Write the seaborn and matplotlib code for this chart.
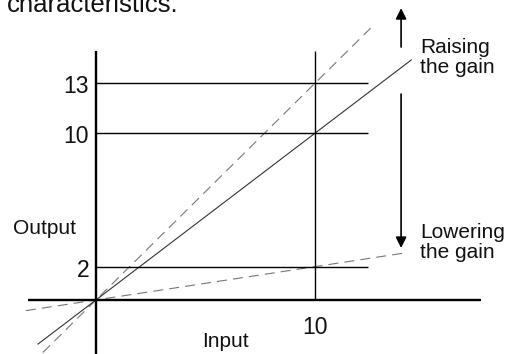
import numpy as np
import pandas as pd
import matplotlib
matplotlib.use("Agg")
import matplotlib.pyplot as plt
import seaborn as sns

# ---- data ----
gains = [1.3, 1.0, 0.2]                 # high, unity, low
gain_names = ["high", "unity", "low"]
gain_x_start = [-2.42, -2.65, -3.2]
gain_x_end = [12.65, 14.4, 14.25]
gain_styles = ["dashed", "solid", "dashed"]
y_levels = [2, 10, 13]
y_labels = ["2", "10", "13"]
x_level = 10
x_label = "10"

sns.set_theme(style="white")
plt.rcParams["font.family"] = ["Liberation Sans", "DejaVu Sans"]

fig = plt.figure(figsize=(5.15, 3.54), dpi=100)
ax = fig.add_axes([0, 0, 1, 1])
ax.set_xlim(-4.38, 19.13)
ax.set_ylim(-3.24, 17.99)
ax.axis("off")

# gain lines
for g, name, x0, x1, st in zip(gains, gain_names, gain_x_start, gain_x_end, gain_styles):
    df = pd.DataFrame({"x": [x0, x1], "y": [g * x0, g * x1]})
    if st == "solid":
        sns.lineplot(data=df, x="x", y="y", ax=ax, color="#333333", lw=0.8,
                     estimator=None, sort=False)
    else:
        sns.lineplot(data=df, x="x", y="y", ax=ax, color="#777777", lw=0.8,
                     linestyle=(0, (9, 5.5)), estimator=None, sort=False)

# axes lines
ax.plot([-3.1, 17.6], [0, 0], color="black", lw=1.7, solid_capstyle="butt")
ax.plot([0, 0], [-3.5, 14.93], color="black", lw=1.7, solid_capstyle="butt")

# guide lines
for v in y_levels:
    ax.plot([0, 12.4], [v, v], color="black", lw=1.0, solid_capstyle="butt")
ax.plot([x_level, x_level], [0, 14.93], color="black", lw=1.0, solid_capstyle="butt")

# tick labels
for v, lab in zip(y_levels, y_labels):
    ax.annotate(lab, xy=(0, v), xytext=(-5, -2.5), textcoords="offset points",
                ha="right", va="center", fontsize=16.5, color="#111111")
ax.annotate(x_label, xy=(x_level, 0), xytext=(0, -20), textcoords="offset points",
            ha="center", va="center", fontsize=16.5, color="#111111")

ax.text(5.9, -2.5, "Input", ha="center", va="center", fontsize=15, color="#111111")
ax.text(-3.8, 4.3, "Output", ha="left", va="center", fontsize=15, color="#111111")

# arrows
ax.annotate("", xy=(13.93, 17.5), xytext=(13.93, 15.17),
            arrowprops=dict(arrowstyle="-|>", color="black", lw=1.2,
                            mutation_scale=16, shrinkA=0, shrinkB=0))
ax.annotate("", xy=(13.93, 3.12), xytext=(13.93, 12.35),
            arrowprops=dict(arrowstyle="-|>", color="black", lw=1.2,
                            mutation_scale=16, shrinkA=0, shrinkB=0))

ax.text(14.79, 15.7, "Raising\nthe gain", ha="left", va="top", fontsize=15,
        color="#111111", linespacing=1.05)
ax.text(14.79, 4.6, "Lowering\nthe gain", ha="left", va="top", fontsize=15,
        color="#111111", linespacing=1.05)

# cut-off caption at top (cut off in the reference as well)
ax.text(-4.06, 17.3, "characteristics.", ha="left", va="baseline", fontsize=18.5,
        color="#111111")

fig.savefig("out.png", dpi=100)
